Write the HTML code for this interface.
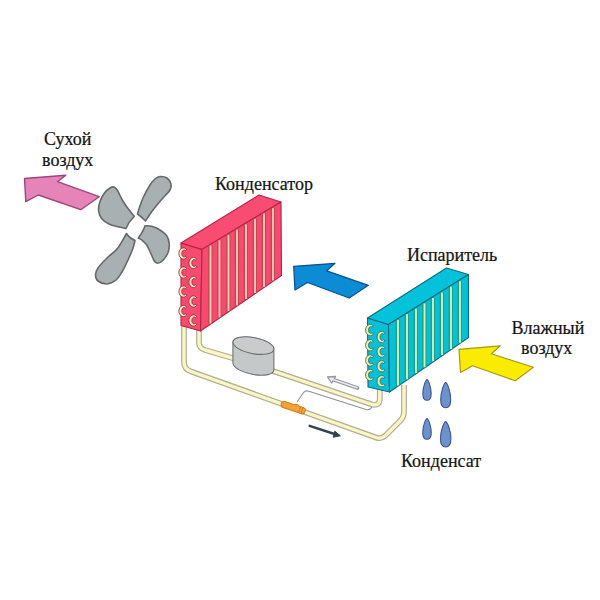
<!DOCTYPE html><html><head><meta charset="utf-8"><style>html,body{margin:0;padding:0;background:#fff;}svg{display:block}</style></head><body><svg width="600" height="600" viewBox="0 0 600 600"><rect width="600" height="600" fill="#ffffff"/>
<polygon points="24.5,178.5 65.8,175.3 57.5,181.7 99.2,196.7 80.8,209.7 38.3,195 25.8,201.7" fill="#e683b9" stroke="#9c4679" stroke-width="1.4" stroke-linejoin="round"/>
<polygon points="293.7,266.3 335,263.3 326.7,270.8 368.3,285.3 349.2,298 307.5,282.5 295,290" fill="#0b8cd5" stroke="#0d5290" stroke-width="1.3" stroke-linejoin="round"/>
<polygon points="459,349.3 500.3,345.8 491.3,353.8 533.3,367.3 515.3,380.8 472.5,365.8 460.5,372.5" fill="#f9ec00" stroke="#a89a10" stroke-width="1.2" stroke-linejoin="round"/>
<path d="M134.30,216.30 C133.25,215.00 129.80,210.88 128.00,208.50 C126.20,206.12 124.78,204.08 123.50,202.00 C122.22,199.92 121.30,197.92 120.30,196.00 C119.30,194.08 118.55,192.00 117.50,190.50 C116.45,189.00 115.25,187.42 114.00,187.00 C112.75,186.58 111.58,187.00 110.00,188.00 C108.42,189.00 106.17,190.75 104.50,193.00 C102.83,195.25 101.00,198.67 100.00,201.50 C99.00,204.33 98.25,207.17 98.50,210.00 C98.75,212.83 99.75,216.17 101.50,218.50 C103.25,220.83 106.08,222.58 109.00,224.00 C111.92,225.42 116.17,226.25 119.00,227.00 C121.83,227.75 124.83,228.25 126.00,228.50 Q128.45,222.20 134.30,216.30 Z" fill="#a9b0b1" stroke="#68686c" stroke-width="1.6" stroke-linejoin="round"/>
<path d="M145.50,221.00 C146.75,219.17 150.08,213.83 153.00,210.00 C155.92,206.17 160.17,201.33 163.00,198.00 C165.83,194.67 168.67,192.33 170.00,190.00 C171.33,187.67 171.50,186.00 171.00,184.00 C170.50,182.00 168.83,179.25 167.00,178.00 C165.17,176.75 162.00,176.33 160.00,176.50 C158.00,176.67 156.67,177.58 155.00,179.00 C153.33,180.42 152.00,181.83 150.00,185.00 C148.00,188.17 144.83,194.00 143.00,198.00 C141.17,202.00 139.92,206.33 139.00,209.00 C138.08,211.67 137.75,213.17 137.50,214.00 Q141.10,216.50 145.50,221.00 Z" fill="#a9b0b1" stroke="#68686c" stroke-width="1.6" stroke-linejoin="round"/>
<path d="M138.30,238.00 C138.87,238.33 140.30,238.83 141.70,240.00 C143.10,241.17 145.18,242.78 146.70,245.00 C148.22,247.22 149.55,250.67 150.80,253.30 C152.05,255.93 153.08,259.13 154.20,260.80 C155.32,262.47 155.98,263.43 157.50,263.30 C159.02,263.17 161.50,261.93 163.30,260.00 C165.10,258.07 167.32,254.48 168.30,251.70 C169.28,248.92 169.47,245.95 169.20,243.30 C168.93,240.65 168.23,238.02 166.70,235.80 C165.17,233.58 162.50,231.58 160.00,230.00 C157.50,228.42 154.20,227.00 151.70,226.30 C149.20,225.60 146.12,225.88 145.00,225.80 Q143.35,231.50 138.30,238.00 Z" fill="#a9b0b1" stroke="#68686c" stroke-width="1.6" stroke-linejoin="round"/>
<path d="M135.00,240.50 C134.67,241.75 134.17,244.75 133.00,248.00 C131.83,251.25 129.83,256.00 128.00,260.00 C126.17,264.00 124.00,268.67 122.00,272.00 C120.00,275.33 118.50,278.00 116.00,280.00 C113.50,282.00 110.00,283.83 107.00,284.00 C104.00,284.17 99.92,282.50 98.00,281.00 C96.08,279.50 95.50,277.17 95.50,275.00 C95.50,272.83 96.08,270.83 98.00,268.00 C99.92,265.17 103.83,261.17 107.00,258.00 C110.17,254.83 114.17,252.33 117.00,249.00 C119.83,245.67 122.42,240.58 124.00,238.00 C125.58,235.42 126.08,234.25 126.50,233.50 Q129.25,238.00 135.00,240.50 Z" fill="#a9b0b1" stroke="#68686c" stroke-width="1.6" stroke-linejoin="round"/>
<path d="M184,322 L184,362 Q184,369 191,371.5 L376,437.5 Q381,439.5 385.5,435.5 L400.5,420.5 Q404,417 404,412 L404,385" fill="none" stroke="#b2ae8e" stroke-width="5.8" stroke-linejoin="round" stroke-linecap="butt"/>
<path d="M184,322 L184,362 Q184,369 191,371.5 L376,437.5 Q381,439.5 385.5,435.5 L400.5,420.5 Q404,417 404,412 L404,385" fill="none" stroke="#f8f6c6" stroke-width="3.4" stroke-linejoin="round" stroke-linecap="butt"/>
<path d="M199,328 L199,343 Q199,348 205,350 L234,358.5" fill="none" stroke="#b2ae8e" stroke-width="5.8" stroke-linejoin="round" stroke-linecap="butt"/>
<path d="M199,328 L199,343 Q199,348 205,350 L234,358.5" fill="none" stroke="#f8f6c6" stroke-width="3.4" stroke-linejoin="round" stroke-linecap="butt"/>
<path d="M270,370 L372,404.5 Q379.8,406 379.8,399 L379.8,388" fill="none" stroke="#b2ae8e" stroke-width="5.8" stroke-linejoin="round" stroke-linecap="butt"/>
<path d="M270,370 L372,404.5 Q379.8,406 379.8,399 L379.8,388" fill="none" stroke="#f8f6c6" stroke-width="3.4" stroke-linejoin="round" stroke-linecap="butt"/>
<path d="M297,402 L303.7,392.3 Q305.5,390.5 308,391 L366,409.5 Q370,410.5 372,407" fill="none" stroke="#8e8e9e" stroke-width="1.1"/>
<g transform="translate(281.3,403.6) rotate(18.5)"><path d="M2.8,-3.1 L11,-3.1 Q13.5,-3.3 15,-4.1 Q17,-4.2 18,-3.2 L22.5,-3.2 Q25,-3.2 25,0 Q25,3.2 22.5,3.2 L2.8,3.2 Q0,3.2 0,0 Q0,-3.1 2.8,-3.1Z" fill="#f5a232" stroke="#c98026" stroke-width="1"/><path d="M19.3,-3 L19.3,3 M21.8,-3 L21.8,3" stroke="#c98026" stroke-width="0.8"/></g>
<path d="M232.93,342.23 L232.93,363.23 A20.80,8.00 11 0 0 273.87,369.97 L273.87,348.97 A20.80,8.00 11 0 0 232.93,342.23 Z" fill="#c4c8c8" stroke="#707074" stroke-width="1.1"/>
<ellipse cx="253.40" cy="345.60" rx="20.80" ry="8.00" transform="rotate(11 253.40 345.60)" fill="#cacccc" stroke="#707074" stroke-width="1.1"/>
<path d="M357.5,388 L333,379.5" stroke="#9494a6" stroke-width="3.8" stroke-linecap="round"/>
<polygon points="327.5,377 335.5,376.5 331.7,383" fill="#ecebf2" stroke="#9494a6" stroke-width="1.3" stroke-linejoin="round"/>
<path d="M357,387.8 L333,379.5" stroke="#ecebf2" stroke-width="1.6" stroke-linecap="round"/>
<path d="M309.6,425.8 L336,434.5" stroke="#34434a" stroke-width="2.4" stroke-linecap="round"/>
<polygon points="340.4,435.8 334.8,431.3 333.2,437.2" fill="#34434a" stroke="#34434a" stroke-width="1" stroke-linejoin="round"/>
<polygon points="181.0,243.0 202.0,249.4 200.5,331.0 181.0,325.5" fill="#f74a6f" stroke="#b52444" stroke-width="1.1" stroke-linejoin="round"/>
<polygon points="181.0,243.0 259.0,195.0 281.0,202.0 202.0,249.4" fill="#f84c72" stroke="#b52444" stroke-width="1.1" stroke-linejoin="round"/>
<polygon points="202.0,249.4 281.0,202.0 281.5,275.5 200.5,331.0" fill="#f74a6f" stroke="#b52444" stroke-width="1.1" stroke-linejoin="round"/>
<line x1="208.8" y1="245.3" x2="208.8" y2="323.7" stroke="#b8484c" stroke-width="1.2"/>
<line x1="212.1" y1="245.3" x2="211.9" y2="323.7" stroke="#b8484c" stroke-width="1.0" stroke-opacity="0.9"/>
<line x1="210.5" y1="245.7" x2="210.5" y2="323.4" stroke="#f9ccb8" stroke-width="1.8"/>
<line x1="217.8" y1="239.9" x2="217.8" y2="317.6" stroke="#b8484c" stroke-width="1.2"/>
<line x1="221.1" y1="239.9" x2="220.9" y2="317.6" stroke="#b8484c" stroke-width="1.0" stroke-opacity="0.9"/>
<line x1="219.5" y1="240.3" x2="219.5" y2="317.3" stroke="#f9ccb8" stroke-width="1.8"/>
<line x1="226.8" y1="234.5" x2="226.8" y2="311.4" stroke="#b8484c" stroke-width="1.2"/>
<line x1="230.1" y1="234.5" x2="229.9" y2="311.4" stroke="#b8484c" stroke-width="1.0" stroke-opacity="0.9"/>
<line x1="228.5" y1="234.9" x2="228.5" y2="311.1" stroke="#f9ccb8" stroke-width="1.8"/>
<line x1="235.3" y1="229.4" x2="235.3" y2="305.6" stroke="#b8484c" stroke-width="1.2"/>
<line x1="238.6" y1="229.4" x2="238.4" y2="305.6" stroke="#b8484c" stroke-width="1.0" stroke-opacity="0.9"/>
<line x1="237.0" y1="229.8" x2="237.0" y2="305.3" stroke="#f9ccb8" stroke-width="1.8"/>
<line x1="244.3" y1="224.0" x2="244.3" y2="299.4" stroke="#b8484c" stroke-width="1.2"/>
<line x1="247.6" y1="224.0" x2="247.4" y2="299.4" stroke="#b8484c" stroke-width="1.0" stroke-opacity="0.9"/>
<line x1="246.0" y1="224.4" x2="246.0" y2="299.1" stroke="#f9ccb8" stroke-width="1.8"/>
<line x1="253.3" y1="218.6" x2="253.3" y2="293.3" stroke="#b8484c" stroke-width="1.2"/>
<line x1="256.6" y1="218.6" x2="256.4" y2="293.3" stroke="#b8484c" stroke-width="1.0" stroke-opacity="0.9"/>
<line x1="255.0" y1="219.0" x2="255.0" y2="293.0" stroke="#f9ccb8" stroke-width="1.8"/>
<line x1="262.3" y1="213.2" x2="262.3" y2="287.1" stroke="#b8484c" stroke-width="1.2"/>
<line x1="265.6" y1="213.2" x2="265.4" y2="287.1" stroke="#b8484c" stroke-width="1.0" stroke-opacity="0.9"/>
<line x1="264.0" y1="213.6" x2="264.0" y2="286.8" stroke="#f9ccb8" stroke-width="1.8"/>
<line x1="271.3" y1="207.8" x2="271.3" y2="280.9" stroke="#b8484c" stroke-width="1.2"/>
<line x1="274.6" y1="207.8" x2="274.4" y2="280.9" stroke="#b8484c" stroke-width="1.0" stroke-opacity="0.9"/>
<line x1="273.0" y1="208.2" x2="273.0" y2="280.6" stroke="#f9ccb8" stroke-width="1.8"/>
<path d="M186.55,249.42 L185.92,248.77 L185.18,248.29 L184.37,247.98 L183.51,247.88 L182.63,247.99 L181.77,248.31 L180.98,248.83 L180.27,249.54 L179.69,250.40 L179.26,251.40 L179.00,252.48 L178.92,253.60 L179.03,254.72 L179.32,255.79 L179.78,256.77 L180.39,257.61 L181.11,258.29 L181.92,258.78 L182.79,259.06 L183.67,259.13 L184.52,258.99 L185.33,258.65 L186.05,258.13 L186.66,257.46 L185.53,256.20 L185.09,256.54 L184.64,256.76 L184.18,256.86 L183.73,256.83 L183.32,256.69 L182.94,256.44 L182.61,256.10 L182.33,255.69 L182.12,255.21 L181.96,254.68 L181.86,254.13 L181.82,253.55 L181.84,252.98 L181.93,252.42 L182.08,251.88 L182.28,251.39 L182.55,250.96 L182.87,250.61 L183.24,250.34 L183.65,250.18 L184.10,250.13 L184.56,250.20 L185.02,250.40 L185.46,250.72Z" fill="#f6e6c0" stroke="#8e2a3a" stroke-width="0.9" stroke-linejoin="round"/>
<path d="M186.55,268.42 L185.92,267.77 L185.18,267.29 L184.37,266.98 L183.51,266.88 L182.63,266.99 L181.77,267.31 L180.98,267.83 L180.27,268.54 L179.69,269.40 L179.26,270.40 L179.00,271.48 L178.92,272.60 L179.03,273.72 L179.32,274.79 L179.78,275.77 L180.39,276.61 L181.11,277.29 L181.92,277.78 L182.79,278.06 L183.67,278.13 L184.52,277.99 L185.33,277.65 L186.05,277.13 L186.66,276.46 L185.53,275.20 L185.09,275.54 L184.64,275.76 L184.18,275.86 L183.73,275.83 L183.32,275.69 L182.94,275.44 L182.61,275.10 L182.33,274.69 L182.12,274.21 L181.96,273.68 L181.86,273.13 L181.82,272.55 L181.84,271.98 L181.93,271.42 L182.08,270.88 L182.28,270.39 L182.55,269.96 L182.87,269.61 L183.24,269.34 L183.65,269.18 L184.10,269.13 L184.56,269.20 L185.02,269.40 L185.46,269.72Z" fill="#f6e6c0" stroke="#8e2a3a" stroke-width="0.9" stroke-linejoin="round"/>
<path d="M186.55,287.42 L185.92,286.77 L185.18,286.29 L184.37,285.98 L183.51,285.88 L182.63,285.99 L181.77,286.31 L180.98,286.83 L180.27,287.54 L179.69,288.40 L179.26,289.40 L179.00,290.48 L178.92,291.60 L179.03,292.72 L179.32,293.79 L179.78,294.77 L180.39,295.61 L181.11,296.29 L181.92,296.78 L182.79,297.06 L183.67,297.13 L184.52,296.99 L185.33,296.65 L186.05,296.13 L186.66,295.46 L185.53,294.20 L185.09,294.54 L184.64,294.76 L184.18,294.86 L183.73,294.83 L183.32,294.69 L182.94,294.44 L182.61,294.10 L182.33,293.69 L182.12,293.21 L181.96,292.68 L181.86,292.13 L181.82,291.55 L181.84,290.98 L181.93,290.42 L182.08,289.88 L182.28,289.39 L182.55,288.96 L182.87,288.61 L183.24,288.34 L183.65,288.18 L184.10,288.13 L184.56,288.20 L185.02,288.40 L185.46,288.72Z" fill="#f6e6c0" stroke="#8e2a3a" stroke-width="0.9" stroke-linejoin="round"/>
<path d="M186.55,306.92 L185.92,306.27 L185.18,305.79 L184.37,305.48 L183.51,305.38 L182.63,305.49 L181.77,305.81 L180.98,306.33 L180.27,307.04 L179.69,307.90 L179.26,308.90 L179.00,309.98 L178.92,311.10 L179.03,312.22 L179.32,313.29 L179.78,314.27 L180.39,315.11 L181.11,315.79 L181.92,316.28 L182.79,316.56 L183.67,316.63 L184.52,316.49 L185.33,316.15 L186.05,315.63 L186.66,314.96 L185.53,313.70 L185.09,314.04 L184.64,314.26 L184.18,314.36 L183.73,314.33 L183.32,314.19 L182.94,313.94 L182.61,313.60 L182.33,313.19 L182.12,312.71 L181.96,312.18 L181.86,311.63 L181.82,311.05 L181.84,310.48 L181.93,309.92 L182.08,309.38 L182.28,308.89 L182.55,308.46 L182.87,308.11 L183.24,307.84 L183.65,307.68 L184.10,307.63 L184.56,307.70 L185.02,307.90 L185.46,308.22Z" fill="#f6e6c0" stroke="#8e2a3a" stroke-width="0.9" stroke-linejoin="round"/>
<path d="M196.55,258.92 L195.92,258.27 L195.18,257.79 L194.37,257.48 L193.51,257.38 L192.63,257.49 L191.77,257.81 L190.98,258.33 L190.27,259.04 L189.69,259.90 L189.26,260.90 L189.00,261.98 L188.92,263.10 L189.03,264.22 L189.32,265.29 L189.78,266.27 L190.39,267.11 L191.11,267.79 L191.92,268.28 L192.79,268.56 L193.67,268.63 L194.52,268.49 L195.33,268.15 L196.05,267.63 L196.66,266.96 L195.53,265.70 L195.09,266.04 L194.64,266.26 L194.18,266.36 L193.73,266.33 L193.32,266.19 L192.94,265.94 L192.61,265.60 L192.33,265.19 L192.12,264.71 L191.96,264.18 L191.86,263.63 L191.82,263.05 L191.84,262.48 L191.93,261.92 L192.08,261.38 L192.28,260.89 L192.55,260.46 L192.87,260.11 L193.24,259.84 L193.65,259.68 L194.10,259.63 L194.56,259.70 L195.02,259.90 L195.46,260.22Z" fill="#f6e6c0" stroke="#8e2a3a" stroke-width="0.9" stroke-linejoin="round"/>
<path d="M196.55,277.92 L195.92,277.27 L195.18,276.79 L194.37,276.48 L193.51,276.38 L192.63,276.49 L191.77,276.81 L190.98,277.33 L190.27,278.04 L189.69,278.90 L189.26,279.90 L189.00,280.98 L188.92,282.10 L189.03,283.22 L189.32,284.29 L189.78,285.27 L190.39,286.11 L191.11,286.79 L191.92,287.28 L192.79,287.56 L193.67,287.63 L194.52,287.49 L195.33,287.15 L196.05,286.63 L196.66,285.96 L195.53,284.70 L195.09,285.04 L194.64,285.26 L194.18,285.36 L193.73,285.33 L193.32,285.19 L192.94,284.94 L192.61,284.60 L192.33,284.19 L192.12,283.71 L191.96,283.18 L191.86,282.63 L191.82,282.05 L191.84,281.48 L191.93,280.92 L192.08,280.38 L192.28,279.89 L192.55,279.46 L192.87,279.11 L193.24,278.84 L193.65,278.68 L194.10,278.63 L194.56,278.70 L195.02,278.90 L195.46,279.22Z" fill="#f6e6c0" stroke="#8e2a3a" stroke-width="0.9" stroke-linejoin="round"/>
<path d="M196.55,297.42 L195.92,296.77 L195.18,296.29 L194.37,295.98 L193.51,295.88 L192.63,295.99 L191.77,296.31 L190.98,296.83 L190.27,297.54 L189.69,298.40 L189.26,299.40 L189.00,300.48 L188.92,301.60 L189.03,302.72 L189.32,303.79 L189.78,304.77 L190.39,305.61 L191.11,306.29 L191.92,306.78 L192.79,307.06 L193.67,307.13 L194.52,306.99 L195.33,306.65 L196.05,306.13 L196.66,305.46 L195.53,304.20 L195.09,304.54 L194.64,304.76 L194.18,304.86 L193.73,304.83 L193.32,304.69 L192.94,304.44 L192.61,304.10 L192.33,303.69 L192.12,303.21 L191.96,302.68 L191.86,302.13 L191.82,301.55 L191.84,300.98 L191.93,300.42 L192.08,299.88 L192.28,299.39 L192.55,298.96 L192.87,298.61 L193.24,298.34 L193.65,298.18 L194.10,298.13 L194.56,298.20 L195.02,298.40 L195.46,298.72Z" fill="#f6e6c0" stroke="#8e2a3a" stroke-width="0.9" stroke-linejoin="round"/>
<path d="M196.55,316.42 L195.92,315.77 L195.18,315.29 L194.37,314.98 L193.51,314.88 L192.63,314.99 L191.77,315.31 L190.98,315.83 L190.27,316.54 L189.69,317.40 L189.26,318.40 L189.00,319.48 L188.92,320.60 L189.03,321.72 L189.32,322.79 L189.78,323.77 L190.39,324.61 L191.11,325.29 L191.92,325.78 L192.79,326.06 L193.67,326.13 L194.52,325.99 L195.33,325.65 L196.05,325.13 L196.66,324.46 L195.53,323.20 L195.09,323.54 L194.64,323.76 L194.18,323.86 L193.73,323.83 L193.32,323.69 L192.94,323.44 L192.61,323.10 L192.33,322.69 L192.12,322.21 L191.96,321.68 L191.86,321.13 L191.82,320.55 L191.84,319.98 L191.93,319.42 L192.08,318.88 L192.28,318.39 L192.55,317.96 L192.87,317.61 L193.24,317.34 L193.65,317.18 L194.10,317.13 L194.56,317.20 L195.02,317.40 L195.46,317.72Z" fill="#f6e6c0" stroke="#8e2a3a" stroke-width="0.9" stroke-linejoin="round"/>
<polygon points="367.5,318.0 388.5,324.5 389.5,392.0 368.0,387.0" fill="#06c0d6" stroke="#0d6b7c" stroke-width="1.1" stroke-linejoin="round"/>
<polygon points="367.5,318.0 446.5,268.0 468.5,274.5 388.5,324.5" fill="#04c2da" stroke="#0d6b7c" stroke-width="1.1" stroke-linejoin="round"/>
<polygon points="388.5,324.5 468.5,274.5 468.5,337.5 389.5,392.0" fill="#06c0d6" stroke="#0d6b7c" stroke-width="1.1" stroke-linejoin="round"/>
<line x1="396.3" y1="319.6" x2="396.3" y2="385.7" stroke="#229a84" stroke-width="1.2"/>
<line x1="399.6" y1="319.6" x2="399.4" y2="385.7" stroke="#229a84" stroke-width="1.0" stroke-opacity="0.9"/>
<line x1="398.0" y1="320.0" x2="398.0" y2="385.4" stroke="#d8f2b4" stroke-width="1.8"/>
<line x1="405.3" y1="313.9" x2="405.3" y2="379.5" stroke="#229a84" stroke-width="1.2"/>
<line x1="408.6" y1="313.9" x2="408.4" y2="379.5" stroke="#229a84" stroke-width="1.0" stroke-opacity="0.9"/>
<line x1="407.0" y1="314.3" x2="407.0" y2="379.2" stroke="#d8f2b4" stroke-width="1.8"/>
<line x1="414.3" y1="308.3" x2="414.3" y2="373.3" stroke="#229a84" stroke-width="1.2"/>
<line x1="417.6" y1="308.3" x2="417.4" y2="373.3" stroke="#229a84" stroke-width="1.0" stroke-opacity="0.9"/>
<line x1="416.0" y1="308.7" x2="416.0" y2="373.0" stroke="#d8f2b4" stroke-width="1.8"/>
<line x1="422.8" y1="303.0" x2="422.8" y2="367.5" stroke="#229a84" stroke-width="1.2"/>
<line x1="426.1" y1="303.0" x2="425.9" y2="367.5" stroke="#229a84" stroke-width="1.0" stroke-opacity="0.9"/>
<line x1="424.5" y1="303.4" x2="424.5" y2="367.2" stroke="#d8f2b4" stroke-width="1.8"/>
<line x1="431.3" y1="297.7" x2="431.3" y2="361.6" stroke="#229a84" stroke-width="1.2"/>
<line x1="434.6" y1="297.7" x2="434.4" y2="361.6" stroke="#229a84" stroke-width="1.0" stroke-opacity="0.9"/>
<line x1="433.0" y1="298.1" x2="433.0" y2="361.3" stroke="#d8f2b4" stroke-width="1.8"/>
<line x1="440.3" y1="292.1" x2="440.3" y2="355.4" stroke="#229a84" stroke-width="1.2"/>
<line x1="443.6" y1="292.1" x2="443.4" y2="355.4" stroke="#229a84" stroke-width="1.0" stroke-opacity="0.9"/>
<line x1="442.0" y1="292.5" x2="442.0" y2="355.1" stroke="#d8f2b4" stroke-width="1.8"/>
<line x1="449.3" y1="286.4" x2="449.3" y2="349.2" stroke="#229a84" stroke-width="1.2"/>
<line x1="452.6" y1="286.4" x2="452.4" y2="349.2" stroke="#229a84" stroke-width="1.0" stroke-opacity="0.9"/>
<line x1="451.0" y1="286.8" x2="451.0" y2="348.9" stroke="#d8f2b4" stroke-width="1.8"/>
<line x1="458.3" y1="280.8" x2="458.3" y2="343.0" stroke="#229a84" stroke-width="1.2"/>
<line x1="461.6" y1="280.8" x2="461.4" y2="343.0" stroke="#229a84" stroke-width="1.0" stroke-opacity="0.9"/>
<line x1="460.0" y1="281.2" x2="460.0" y2="342.7" stroke="#d8f2b4" stroke-width="1.8"/>
<path d="M373.25,325.92 L372.62,325.27 L371.88,324.79 L371.07,324.48 L370.21,324.38 L369.33,324.49 L368.47,324.81 L367.68,325.33 L366.97,326.04 L366.39,326.90 L365.96,327.90 L365.70,328.98 L365.62,330.10 L365.73,331.22 L366.02,332.29 L366.48,333.27 L367.09,334.11 L367.81,334.79 L368.62,335.28 L369.49,335.56 L370.37,335.63 L371.22,335.49 L372.03,335.15 L372.75,334.63 L373.36,333.96 L372.23,332.70 L371.79,333.04 L371.34,333.26 L370.88,333.36 L370.43,333.33 L370.02,333.19 L369.64,332.94 L369.31,332.60 L369.03,332.19 L368.82,331.71 L368.66,331.18 L368.56,330.63 L368.52,330.05 L368.54,329.48 L368.63,328.92 L368.78,328.38 L368.98,327.89 L369.25,327.46 L369.57,327.11 L369.94,326.84 L370.35,326.68 L370.80,326.63 L371.26,326.70 L371.72,326.90 L372.16,327.22Z" fill="#eef0a6" stroke="#3a6a5a" stroke-width="0.9" stroke-linejoin="round"/>
<path d="M373.25,341.12 L372.62,340.47 L371.88,339.99 L371.07,339.68 L370.21,339.58 L369.33,339.69 L368.47,340.01 L367.68,340.53 L366.97,341.24 L366.39,342.10 L365.96,343.10 L365.70,344.18 L365.62,345.30 L365.73,346.42 L366.02,347.49 L366.48,348.47 L367.09,349.31 L367.81,349.99 L368.62,350.48 L369.49,350.76 L370.37,350.83 L371.22,350.69 L372.03,350.35 L372.75,349.83 L373.36,349.16 L372.23,347.90 L371.79,348.24 L371.34,348.46 L370.88,348.56 L370.43,348.53 L370.02,348.39 L369.64,348.14 L369.31,347.80 L369.03,347.39 L368.82,346.91 L368.66,346.38 L368.56,345.83 L368.52,345.25 L368.54,344.68 L368.63,344.12 L368.78,343.58 L368.98,343.09 L369.25,342.66 L369.57,342.31 L369.94,342.04 L370.35,341.88 L370.80,341.83 L371.26,341.90 L371.72,342.10 L372.16,342.42Z" fill="#eef0a6" stroke="#3a6a5a" stroke-width="0.9" stroke-linejoin="round"/>
<path d="M373.25,356.32 L372.62,355.67 L371.88,355.19 L371.07,354.88 L370.21,354.78 L369.33,354.89 L368.47,355.21 L367.68,355.73 L366.97,356.44 L366.39,357.30 L365.96,358.30 L365.70,359.38 L365.62,360.50 L365.73,361.62 L366.02,362.69 L366.48,363.67 L367.09,364.51 L367.81,365.19 L368.62,365.68 L369.49,365.96 L370.37,366.03 L371.22,365.89 L372.03,365.55 L372.75,365.03 L373.36,364.36 L372.23,363.10 L371.79,363.44 L371.34,363.66 L370.88,363.76 L370.43,363.73 L370.02,363.59 L369.64,363.34 L369.31,363.00 L369.03,362.59 L368.82,362.11 L368.66,361.58 L368.56,361.03 L368.52,360.45 L368.54,359.88 L368.63,359.32 L368.78,358.78 L368.98,358.29 L369.25,357.86 L369.57,357.51 L369.94,357.24 L370.35,357.08 L370.80,357.03 L371.26,357.10 L371.72,357.30 L372.16,357.62Z" fill="#eef0a6" stroke="#3a6a5a" stroke-width="0.9" stroke-linejoin="round"/>
<path d="M373.25,370.92 L372.62,370.27 L371.88,369.79 L371.07,369.48 L370.21,369.38 L369.33,369.49 L368.47,369.81 L367.68,370.33 L366.97,371.04 L366.39,371.90 L365.96,372.90 L365.70,373.98 L365.62,375.10 L365.73,376.22 L366.02,377.29 L366.48,378.27 L367.09,379.11 L367.81,379.79 L368.62,380.28 L369.49,380.56 L370.37,380.63 L371.22,380.49 L372.03,380.15 L372.75,379.63 L373.36,378.96 L372.23,377.70 L371.79,378.04 L371.34,378.26 L370.88,378.36 L370.43,378.33 L370.02,378.19 L369.64,377.94 L369.31,377.60 L369.03,377.19 L368.82,376.71 L368.66,376.18 L368.56,375.63 L368.52,375.05 L368.54,374.48 L368.63,373.92 L368.78,373.38 L368.98,372.89 L369.25,372.46 L369.57,372.11 L369.94,371.84 L370.35,371.68 L370.80,371.63 L371.26,371.70 L371.72,371.90 L372.16,372.22Z" fill="#eef0a6" stroke="#3a6a5a" stroke-width="0.9" stroke-linejoin="round"/>
<path d="M384.75,332.92 L384.12,332.27 L383.38,331.79 L382.57,331.48 L381.71,331.38 L380.83,331.49 L379.97,331.81 L379.18,332.33 L378.47,333.04 L377.89,333.90 L377.46,334.90 L377.20,335.98 L377.12,337.10 L377.23,338.22 L377.52,339.29 L377.98,340.27 L378.59,341.11 L379.31,341.79 L380.12,342.28 L380.99,342.56 L381.87,342.63 L382.72,342.49 L383.53,342.15 L384.25,341.63 L384.86,340.96 L383.73,339.70 L383.29,340.04 L382.84,340.26 L382.38,340.36 L381.93,340.33 L381.52,340.19 L381.14,339.94 L380.81,339.60 L380.53,339.19 L380.32,338.71 L380.16,338.18 L380.06,337.63 L380.02,337.05 L380.04,336.48 L380.13,335.92 L380.28,335.38 L380.48,334.89 L380.75,334.46 L381.07,334.11 L381.44,333.84 L381.85,333.68 L382.30,333.63 L382.76,333.70 L383.22,333.90 L383.66,334.22Z" fill="#eef0a6" stroke="#3a6a5a" stroke-width="0.9" stroke-linejoin="round"/>
<path d="M384.75,347.52 L384.12,346.87 L383.38,346.39 L382.57,346.08 L381.71,345.98 L380.83,346.09 L379.97,346.41 L379.18,346.93 L378.47,347.64 L377.89,348.50 L377.46,349.50 L377.20,350.58 L377.12,351.70 L377.23,352.82 L377.52,353.89 L377.98,354.87 L378.59,355.71 L379.31,356.39 L380.12,356.88 L380.99,357.16 L381.87,357.23 L382.72,357.09 L383.53,356.75 L384.25,356.23 L384.86,355.56 L383.73,354.30 L383.29,354.64 L382.84,354.86 L382.38,354.96 L381.93,354.93 L381.52,354.79 L381.14,354.54 L380.81,354.20 L380.53,353.79 L380.32,353.31 L380.16,352.78 L380.06,352.23 L380.02,351.65 L380.04,351.08 L380.13,350.52 L380.28,349.98 L380.48,349.49 L380.75,349.06 L381.07,348.71 L381.44,348.44 L381.85,348.28 L382.30,348.23 L382.76,348.30 L383.22,348.50 L383.66,348.82Z" fill="#eef0a6" stroke="#3a6a5a" stroke-width="0.9" stroke-linejoin="round"/>
<path d="M384.75,362.12 L384.12,361.47 L383.38,360.99 L382.57,360.68 L381.71,360.58 L380.83,360.69 L379.97,361.01 L379.18,361.53 L378.47,362.24 L377.89,363.10 L377.46,364.10 L377.20,365.18 L377.12,366.30 L377.23,367.42 L377.52,368.49 L377.98,369.47 L378.59,370.31 L379.31,370.99 L380.12,371.48 L380.99,371.76 L381.87,371.83 L382.72,371.69 L383.53,371.35 L384.25,370.83 L384.86,370.16 L383.73,368.90 L383.29,369.24 L382.84,369.46 L382.38,369.56 L381.93,369.53 L381.52,369.39 L381.14,369.14 L380.81,368.80 L380.53,368.39 L380.32,367.91 L380.16,367.38 L380.06,366.83 L380.02,366.25 L380.04,365.68 L380.13,365.12 L380.28,364.58 L380.48,364.09 L380.75,363.66 L381.07,363.31 L381.44,363.04 L381.85,362.88 L382.30,362.83 L382.76,362.90 L383.22,363.10 L383.66,363.42Z" fill="#eef0a6" stroke="#3a6a5a" stroke-width="0.9" stroke-linejoin="round"/>
<path d="M384.75,377.12 L384.12,376.47 L383.38,375.99 L382.57,375.68 L381.71,375.58 L380.83,375.69 L379.97,376.01 L379.18,376.53 L378.47,377.24 L377.89,378.10 L377.46,379.10 L377.20,380.18 L377.12,381.30 L377.23,382.42 L377.52,383.49 L377.98,384.47 L378.59,385.31 L379.31,385.99 L380.12,386.48 L380.99,386.76 L381.87,386.83 L382.72,386.69 L383.53,386.35 L384.25,385.83 L384.86,385.16 L383.73,383.90 L383.29,384.24 L382.84,384.46 L382.38,384.56 L381.93,384.53 L381.52,384.39 L381.14,384.14 L380.81,383.80 L380.53,383.39 L380.32,382.91 L380.16,382.38 L380.06,381.83 L380.02,381.25 L380.04,380.68 L380.13,380.12 L380.28,379.58 L380.48,379.09 L380.75,378.66 L381.07,378.31 L381.44,378.04 L381.85,377.88 L382.30,377.83 L382.76,377.90 L383.22,378.10 L383.66,378.42Z" fill="#eef0a6" stroke="#3a6a5a" stroke-width="0.9" stroke-linejoin="round"/>
<path d="M427.00,379.50 C428.25,379.92 431.15,386.78 431.15,393.64 C431.15,398.22 429.28,400.30 427.00,400.30 C424.72,400.30 422.85,398.22 422.85,393.64 C422.85,386.78 425.75,379.92 427.00,379.50Z" fill="#6c92cc" stroke="#3d548c" stroke-width="1.1"/>
<path d="M445.70,382.50 C447.20,383.00 450.70,391.32 450.70,399.64 C450.70,405.18 448.45,407.70 445.70,407.70 C442.95,407.70 440.70,405.18 440.70,399.64 C440.70,391.32 444.20,383.00 445.70,382.50Z" fill="#6c92cc" stroke="#3d548c" stroke-width="1.1"/>
<path d="M427.00,418.50 C428.27,418.92 431.25,425.78 431.25,432.64 C431.25,437.22 429.34,439.30 427.00,439.30 C424.66,439.30 422.75,437.22 422.75,432.64 C422.75,425.78 425.73,418.92 427.00,418.50Z" fill="#6c92cc" stroke="#3d548c" stroke-width="1.1"/>
<path d="M445.70,421.50 C447.27,422.01 450.95,430.43 450.95,438.84 C450.95,444.45 448.59,447.00 445.70,447.00 C442.81,447.00 440.45,444.45 440.45,438.84 C440.45,430.43 444.12,422.01 445.70,421.50Z" fill="#6c92cc" stroke="#3d548c" stroke-width="1.1"/>
<text x="44.0" y="145.0" font-family="Liberation Serif" font-size="18" fill="#141414" stroke="#141414" stroke-width="0.22">Сухой</text>
<text x="42.0" y="166.0" font-family="Liberation Serif" font-size="18" fill="#141414" stroke="#141414" stroke-width="0.22">воздух</text>
<text x="215.0" y="190.0" font-family="Liberation Serif" font-size="18" fill="#141414" stroke="#141414" stroke-width="0.22">Конденсатор</text>
<text x="407.0" y="261.0" font-family="Liberation Serif" font-size="18" fill="#141414" stroke="#141414" stroke-width="0.22">Испаритель</text>
<text x="511.5" y="334.0" font-family="Liberation Serif" font-size="18" fill="#141414" stroke="#141414" stroke-width="0.22">Влажный</text>
<text x="521.0" y="354.0" font-family="Liberation Serif" font-size="18" fill="#141414" stroke="#141414" stroke-width="0.22">воздух</text>
<text x="401.0" y="466.5" font-family="Liberation Serif" font-size="18" fill="#141414" stroke="#141414" stroke-width="0.22">Конденсат</text></svg></body></html>
